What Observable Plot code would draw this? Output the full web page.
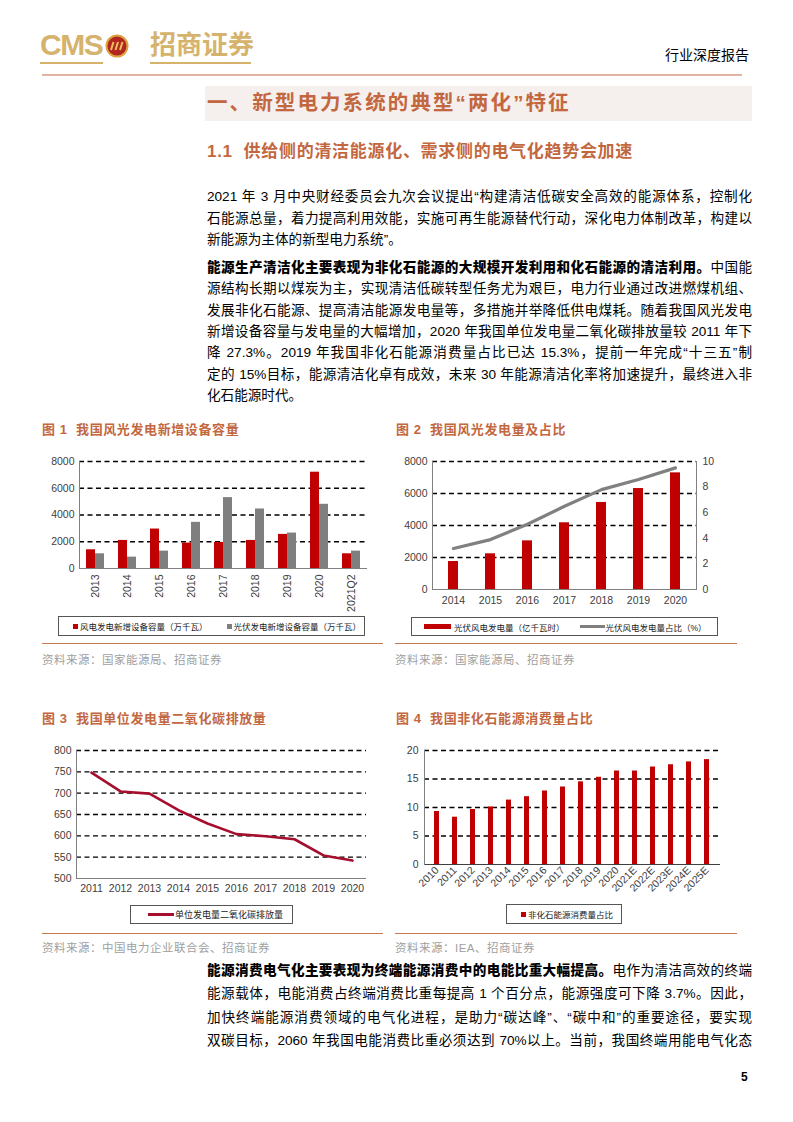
<!DOCTYPE html>
<html><head><meta charset="utf-8">
<script src="https://cdn.jsdelivr.net/npm/d3@7"></script>
<script src="https://cdn.jsdelivr.net/npm/@observablehq/plot@0.6"></script>
<style>
body{margin:0;background:#fff;}
#page{position:relative;width:793px;height:1122px;overflow:hidden;font-family:"Liberation Sans","Noto Sans CJK SC",sans-serif;color:#000;}
.abs{position:absolute;}
.ln{position:absolute;left:207px;width:545px;font-size:13.6px;height:20px;line-height:20px;text-align:justify;text-align-last:justify;}
.ln.last{text-align-last:left;}
.ln b{font-weight:900;}
.figt{position:absolute;font-size:13px;font-weight:bold;color:#c3673f;letter-spacing:0.6px;line-height:16px;}
.src{position:absolute;font-size:11.5px;color:#a0a0a0;letter-spacing:0.5px;line-height:14px;}
.rule{position:absolute;height:1px;background:#c87850;}
.lg{position:absolute;border:1px solid #555;box-sizing:border-box;display:flex;align-items:center;font-size:8.5px;color:#222;white-space:nowrap;}
.sq{display:inline-block;width:5px;height:5px;margin-right:2px;}
.chart{position:absolute;}
</style></head>
<body><div id="page">
  <!-- header -->
  <div class="abs" style="left:40px;top:27px;font-size:30px;font-weight:bold;color:#d6b36c;letter-spacing:-1.5px;line-height:36px;font-family:'Liberation Sans Narrow','Liberation Sans',sans-serif;">CMS</div>
  <svg class="abs" style="left:105px;top:34px" width="24" height="24"><circle cx="12" cy="12" r="10.5" fill="#b3261e" stroke="#d9a441" stroke-width="2"/><path d="M6 16 L8.5 8 M10.5 16 L13 8 M15 16 L17.5 8" stroke="#e8c060" stroke-width="2"/></svg>
  <div class="abs" style="left:150px;top:27px;font-size:26px;font-weight:bold;color:#d6b36c;line-height:36px;letter-spacing:0px;">招商证券</div>
  <div class="abs" style="left:40px;top:62px;width:63px;height:2px;background:#d6b36c"></div>
  <div class="abs" style="left:150px;top:62px;width:101px;height:2px;background:#d6b36c"></div>
  <div class="abs" style="left:665px;top:46px;font-size:14px;line-height:18px;">行业深度报告</div>
  <div class="abs" style="left:42px;top:74px;width:700px;height:2px;background:#e2b4a4"></div>

  <div class="abs" style="left:205px;top:86px;width:547px;height:35px;background:#f5efed"></div>
  <div class="abs" style="left:207px;top:89px;font-size:20.5px;font-weight:bold;color:#c3673f;letter-spacing:2.1px;line-height:28px;">一、新型电力系统的典型“两化”特征</div>
  <div class="abs" style="left:207px;top:141px;font-size:17px;font-weight:bold;color:#c3673f;letter-spacing:0.7px;line-height:22px;">1.1&nbsp; 供给侧的清洁能源化、需求侧的电气化趋势会加速</div>

  <div class="ln" style="top:187px">2021 年 3 月中央财经委员会九次会议提出“构建清洁低碳安全高效的能源体系，控制化</div>
  <div class="ln" style="top:208.5px">石能源总量，着力提高利用效能，实施可再生能源替代行动，深化电力体制改革，构建以</div>
  <div class="ln last" style="top:230px">新能源为主体的新型电力系统”。</div>

  <div class="ln" style="top:258px"><b>能源生产清洁化主要表现为非化石能源的大规模开发利用和化石能源的清洁利用。</b>中国能</div>
  <div class="ln" style="top:279.3px">源结构长期以煤炭为主，实现清洁低碳转型任务尤为艰巨，电力行业通过改进燃煤机组、</div>
  <div class="ln" style="top:300.6px">发展非化石能源、提高清洁能源发电量等，多措施并举降低供电煤耗。随着我国风光发电</div>
  <div class="ln" style="top:321.9px">新增设备容量与发电量的大幅增加，2020 年我国单位发电量二氧化碳排放量较 2011 年下</div>
  <div class="ln" style="top:343.2px">降 27.3%。2019 年我国非化石能源消费量占比已达 15.3%，提前一年完成“十三五”制</div>
  <div class="ln" style="top:364.5px">定的 15%目标，能源清洁化卓有成效，未来 30 年能源清洁化率将加速提升，最终进入非</div>
  <div class="ln last" style="top:385.8px">化石能源时代。</div>

  <div class="figt" style="left:42px;top:422px">图 1&nbsp; 我国风光发电新增设备容量</div>
  <div class="figt" style="left:396px;top:422px">图 2&nbsp; 我国风光发电量及占比</div>
  <div class="figt" style="left:42px;top:711px">图 3&nbsp; 我国单位发电量二氧化碳排放量</div>
  <div class="figt" style="left:396px;top:711px">图 4&nbsp; 我国非化石能源消费量占比</div>

  <div id="c1" class="chart" style="left:40px;top:450px"></div>
  <div id="c2" class="chart" style="left:390px;top:450px"></div>
  <div id="c3" class="chart" style="left:40px;top:740px"></div>
  <div id="c4" class="chart" style="left:390px;top:740px"></div>

  <div class="lg" style="left:58px;top:616px;width:307px;height:20px;">
    <span class="sq" style="margin-left:14px;background:#c00000"></span><span>风电发电新增设备容量（万千瓦）</span>
    <span class="sq" style="margin-left:19px;background:#7f7f7f"></span><span>光伏发电新增设备容量（万千瓦）</span>
  </div>
  <div class="lg" style="left:411px;top:617px;width:307px;height:19px;">
    <span style="display:inline-block;width:27px;height:5px;background:#c00000;margin-left:12px;margin-right:3px"></span><span>光伏风电发电量（亿千瓦时）</span>
    <span style="display:inline-block;width:25px;height:3px;background:#7f7f7f;margin-left:15px;margin-right:1px"></span><span>光伏风电发电量占比（%）</span>
  </div>
  <div class="lg" style="left:130px;top:905px;width:163px;height:19px;font-size:9px;">
    <span style="display:inline-block;width:26px;height:3px;background:#a50f2d;margin-left:17px;margin-right:1px"></span><span>单位发电量二氧化碳排放量</span>
  </div>
  <div class="lg" style="left:506px;top:904px;width:116px;height:20px;">
    <span class="sq" style="margin-left:14px;background:#c00000"></span><span>非化石能源消费量占比</span>
  </div>

  <div class="rule" style="left:42px;top:643px;width:341px"></div>
  <div class="rule" style="left:395px;top:643px;width:342px"></div>
  <div class="src" style="left:42px;top:653px">资料来源：国家能源局、招商证券</div>
  <div class="src" style="left:395px;top:653px">资料来源：国家能源局、招商证券</div>
  <div class="rule" style="left:42px;top:933px;width:341px"></div>
  <div class="rule" style="left:395px;top:933px;width:342px"></div>
  <div class="src" style="left:42px;top:941px">资料来源：中国电力企业联合会、招商证券</div>
  <div class="src" style="left:395px;top:941px">资料来源：IEA、招商证券</div>

  <div class="ln" style="top:961px;line-height:20px"><b>能源消费电气化主要表现为终端能源消费中的电能比重大幅提高。</b>电作为清洁高效的终端</div>
  <div class="ln" style="top:984.3px">能源载体，电能消费占终端消费比重每提高 1 个百分点，能源强度可下降 3.7%。因此，</div>
  <div class="ln" style="top:1007.6px">加快终端能源消费领域的电气化进程，是助力“碳达峰”、“碳中和”的重要途径，要实现</div>
  <div class="ln" style="top:1030.9px">双碳目标，2060 年我国电能消费比重必须达到 70%以上。当前，我国终端用能电气化态</div>

  <div class="abs" style="left:741px;top:1069px;font-size:12px;font-weight:bold;line-height:16px;">5</div>
</div>
<script>
// ---- Data ----
const years1 = ["2013","2014","2015","2016","2017","2018","2019","2020","2021Q2"];
const wind1  = [1400, 2100, 2950, 1900, 1950, 2100, 2550, 7200, 1100];
const solar1 = [1100,  850, 1300, 3450, 5300, 4450, 2650, 4800, 1300];

const years2 = ["2014","2015","2016","2017","2018","2019","2020"];
const gen2   = [1750, 2230, 3040, 4170, 5440, 6310, 7290];
const share2 = [3.2, 3.9, 5.1, 6.5, 7.8, 8.6, 9.5];

const years3 = ["2011","2012","2013","2014","2015","2016","2017","2018","2019","2020"];
const co2_3  = [748, 704, 699, 660, 629, 604, 599, 592, 554, 542];

const years4 = ["2010","2011","2012","2013","2014","2015","2016","2017","2018","2019","2020","2021E","2022E","2023E","2024E","2025E"];
const share4 = [9.3, 8.3, 9.65, 10.1, 11.3, 11.9, 12.9, 13.6, 14.5, 15.3, 16.4, 16.4, 17.1, 17.5, 18.0, 18.4];

const ticks1 = [0, 2000, 4000, 6000, 8000];
const ticks2R = [0, 2, 4, 6, 8, 10];
const ticks3 = [500, 550, 600, 650, 700, 750, 800];
const ticks4 = [0, 5, 10, 15, 20];

const baseStyle = {fontFamily:"'Liberation Sans', Arial, sans-serif", fontSize:"10.5px", color:"#404040", background:"transparent", overflow:"visible"};
const dash = {stroke:"#000", strokeDasharray:"5,3.5", strokeWidth:1.3};

// ---- Chart 1 ----
const d1 = years1.map((y,i)=>({year:y, wind:wind1[i], solar:solar1[i]}));
const c1 = Plot.plot({
  width:330, height:165, marginLeft:39, marginRight:3, marginTop:11, marginBottom:47,
  style: baseStyle,
  x:{domain:years1, paddingInner:0.44, paddingOuter:0.22, label:null, tickRotate:-90, tickSize:0, tickPadding:6},
  y:{domain:[0,8000], ticks:ticks1, label:null, tickSize:0, tickPadding:5, tickFormat:d=>String(d)},
  marks:[
    Plot.ruleY(ticks1.slice(1), dash),
    Plot.barY(d1,{x:"year", y:"wind", fill:"#c00000", insetRight:9}),
    Plot.barY(d1,{x:"year", y:"solar", fill:"#7f7f7f", insetLeft:9}),
    Plot.ruleY([0],{stroke:"#808080"}),
    Plot.frame({anchor:"left", stroke:"#808080"})
  ]
});
document.getElementById("c1").append(c1);

// ---- Chart 2 ----
const d2 = years2.map((y,i)=>({year:y, gen:gen2[i], share:share2[i]}));
const k2 = 800; // right axis (0-10) mapped onto left axis (0-8000)
const c2 = Plot.plot({
  width:340, height:165, marginLeft:42, marginRight:34, marginTop:11, marginBottom:26,
  style: baseStyle,
  x:{domain:years2, paddingInner:0.74, paddingOuter:0.4, label:null, tickSize:0, tickPadding:7},
  y:{domain:[0,8000], label:null},
  marks:[
    Plot.ruleY(ticks1.slice(1), dash),
    Plot.barY(d2,{x:"year", y:"gen", fill:"#c00000"}),
    Plot.line(d2,{x:"year", y:d=>d.share*k2, stroke:"#808080", strokeWidth:3.2}),
    Plot.axisY({anchor:"left", ticks:ticks1, tickSize:0, tickPadding:5, label:null, tickFormat:d=>String(d)}),
    Plot.axisY({anchor:"right", ticks:ticks2R.map(v=>v*k2), tickSize:0, tickPadding:6, label:null, tickFormat:d=>String(d/k2)}),
    Plot.axisX({tickSize:0, tickPadding:7, label:null}),
    Plot.ruleY([0],{stroke:"#808080"}),
    Plot.frame({anchor:"left", stroke:"#808080"}),
    Plot.frame({anchor:"right", stroke:"#808080"})
  ]
});
document.getElementById("c2").append(c2);

// ---- Chart 3 ----
const d3data = years3.map((y,i)=>({year:y, v:co2_3[i]}));
const c3 = Plot.plot({
  width:330, height:160, marginLeft:36, marginRight:4, marginTop:10, marginBottom:22,
  style: baseStyle,
  x:{type:"point", domain:years3, padding:0.5, label:null, tickSize:0, tickPadding:6},
  y:{domain:[500,800], ticks:ticks3, label:null, tickSize:0, tickPadding:5},
  marks:[
    Plot.ruleY(ticks3.slice(1), dash),
    Plot.line(d3data,{x:"year", y:"v", stroke:"#a50f2d", strokeWidth:2.6}),
    Plot.ruleY([500],{stroke:"#808080"}),
    Plot.frame({anchor:"left", stroke:"#808080"})
  ]
});
document.getElementById("c3").append(c3);

// ---- Chart 4 ----
const d4 = years4.map((y,i)=>({year:y, v:share4[i]}));
const c4 = Plot.plot({
  width:340, height:165, marginLeft:34, marginRight:10, marginTop:10, marginBottom:41,
  style: baseStyle,
  x:{domain:years4, paddingInner:0.72, paddingOuter:0.36, label:null, tickRotate:-45, tickSize:0, tickPadding:4},
  y:{domain:[0,20], ticks:ticks4, label:null, tickSize:0, tickPadding:6},
  marks:[
    Plot.ruleY(ticks4.slice(1), dash),
    Plot.barY(d4,{x:"year", y:"v", fill:"#c00000"}),
    Plot.ruleY([0],{stroke:"#404040"}),
    Plot.frame({anchor:"left", stroke:"#808080"})
  ]
});
document.getElementById("c4").append(c4);
</script>
</body></html>
